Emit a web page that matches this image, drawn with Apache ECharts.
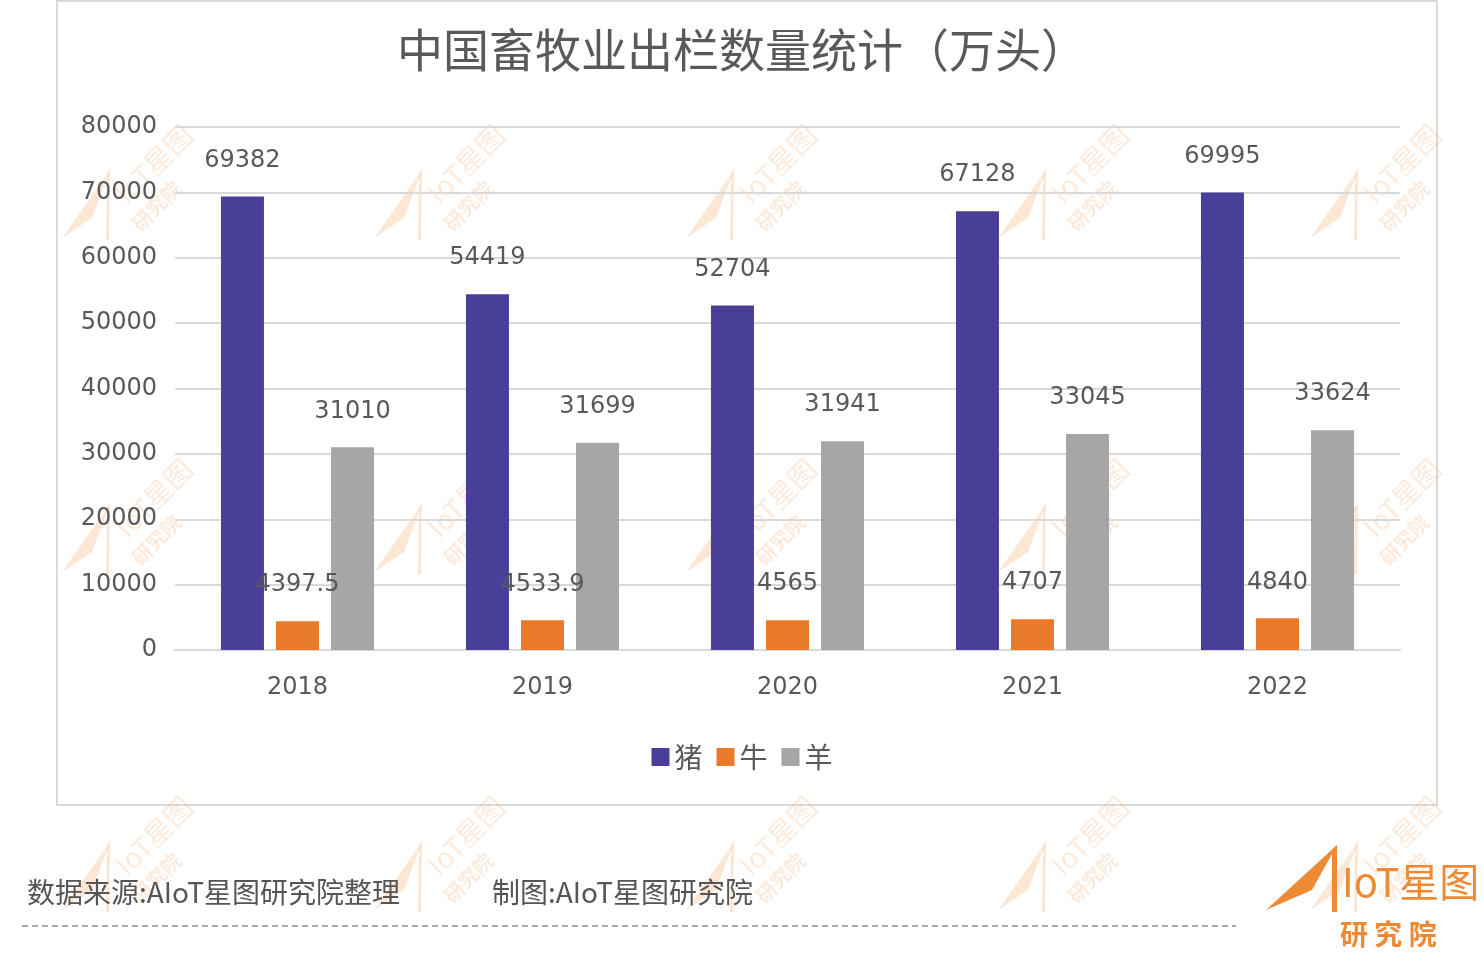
<!DOCTYPE html>
<html>
<head>
<meta charset="utf-8">
<script src="https://cdn.jsdelivr.net/npm/echarts@6/dist/echarts.min.js"></script>
<style>
  html, body { margin: 0; padding: 0; background: #fff; }
  #chart { width: 1484px; height: 968px; }
</style>
</head>
<body>
<div id="chart"></div>
<script>
const years = ['2018', '2019', '2020', '2021', '2022']
const pig = [69382, 54419, 52704, 67128, 69995]
const cattle = [4397.5, 4533.9, 4565, 4707, 4840]
const sheep = [31010, 31699, 31941, 33045, 33624]
const seriesNames = ['猪', '牛', '羊']
const colors = ['#4a3f98', '#e97a2c', '#a6a6a6']

const textColor = '#595959'
const font = '"Noto Sans CJK SC", "Noto Sans", sans-serif'
const numFont = '"DejaVu Sans", sans-serif'

// faint watermark stamps
const marks = []
const markXs = [62, 374, 686, 998, 1310]
const markYs = [118, 452, 790]
markYs.forEach(y => {
    markXs.forEach(x => {
        marks.push({
            type: 'group', x: x, y: y, silent: true, z: 10,
            children: [
                { type: 'polygon', shape: { points: [[0, 120], [48, 52], [30, 100]] },
                  style: { fill: 'rgba(245,175,115,0.3)' } },
                { type: 'polygon', shape: { points: [[45, 55], [48, 52], [47, 122], [44, 122]] },
                  style: { fill: 'rgba(245,175,115,0.3)' } },
                { type: 'text', x: 48, y: 70, rotation: Math.PI / 4,
                  style: { text: 'IoT星图', font: '28px ' + font, fill: 'rgba(245,175,115,0.25)' } },
                { type: 'text', x: 66, y: 102, rotation: Math.PI / 4,
                  style: { text: '研究院', font: 'bold 20px ' + font, fill: 'rgba(245,175,115,0.25)' } }
            ]
        })
    })
})

const chart = echarts.init(document.getElementById('chart'))

const labelStyle = {
    show: true,
    position: 'top',
    distance: 24,
    fontSize: 24,
    color: textColor,
    fontFamily: numFont
}

chart.setOption({
    backgroundColor: '#fff',
    animation: false,
    color: colors,
    title: {
        text: '中国畜牧业出栏数量统计（万头）',
        left: 'center',
        top: 22,
        textStyle: { fontSize: 46, fontWeight: 'normal', color: textColor, fontFamily: font }
    },
    legend: {
        data: seriesNames,
        left: 'center',
        top: 738,
        icon: 'rect',
        itemWidth: 18,
        itemHeight: 18,
        itemGap: 14,
        textStyle: { fontSize: 28, color: textColor, fontFamily: font }
    },
    grid: { left: 175, right: 84, top: 127, bottom: 318 },
    xAxis: {
        type: 'category',
        data: years,
        axisLine: { lineStyle: { color: '#d9d9d9', width: 2 } },
        axisTick: { show: false },
        axisLabel: { fontSize: 24, color: textColor, margin: 26, fontFamily: numFont }
    },
    yAxis: {
        type: 'value',
        min: 0,
        max: 80000,
        interval: 10000,
        axisLine: { show: false },
        axisTick: { show: false },
        axisLabel: { fontSize: 24, color: textColor, margin: 18, fontFamily: numFont,
                     formatter: v => String(v) },
        splitLine: { lineStyle: { color: '#d9d9d9', width: 2 } }
    },
    series: seriesNames.map((name, i) => ({
        name: name,
        type: 'bar',
        data: [pig, cattle, sheep][i],
        barWidth: 43,
        barGap: '28%',
        label: labelStyle,
        z: 3
    })),
    graphic: [
        { type: 'rect', shape: { x: 57, y: 1, width: 1380, height: 804 },
          style: { fill: 'none', stroke: '#d9d9d9', lineWidth: 2 }, z: -1, silent: true },
        ...marks,
        { type: 'text', left: 27, top: 878,
          style: { text: '数据来源:AIoT星图研究院整理', font: '28px ' + font, fill: '#555' } },
        { type: 'text', left: 492, top: 878,
          style: { text: '制图:AIoT星图研究院', font: '28px ' + font, fill: '#555' } },
        { type: 'line', shape: { x1: 22, y1: 926, x2: 1236, y2: 926 },
          style: { stroke: '#aaa', lineWidth: 2, lineDash: [6, 4] }, silent: true },
        // logo bottom right
        { type: 'polygon', shape: { points: [[1266, 910], [1337, 845], [1312, 890]] },
          style: { fill: '#ee8a33' }, silent: true },
        { type: 'polygon', shape: { points: [[1332, 850], [1337, 845], [1337, 912], [1332, 912]] },
          style: { fill: '#ee8a33' }, silent: true },
        { type: 'text', left: 1342, top: 862,
          style: { text: 'IoT星图', font: '40px ' + font, fill: '#ee8a33' } },
        { type: 'text', left: 1340, top: 920,
          style: { text: '研 究 院', font: 'bold 28px ' + font, fill: '#ee8a33' } }
    ]
})
</script>
</body>
</html>
